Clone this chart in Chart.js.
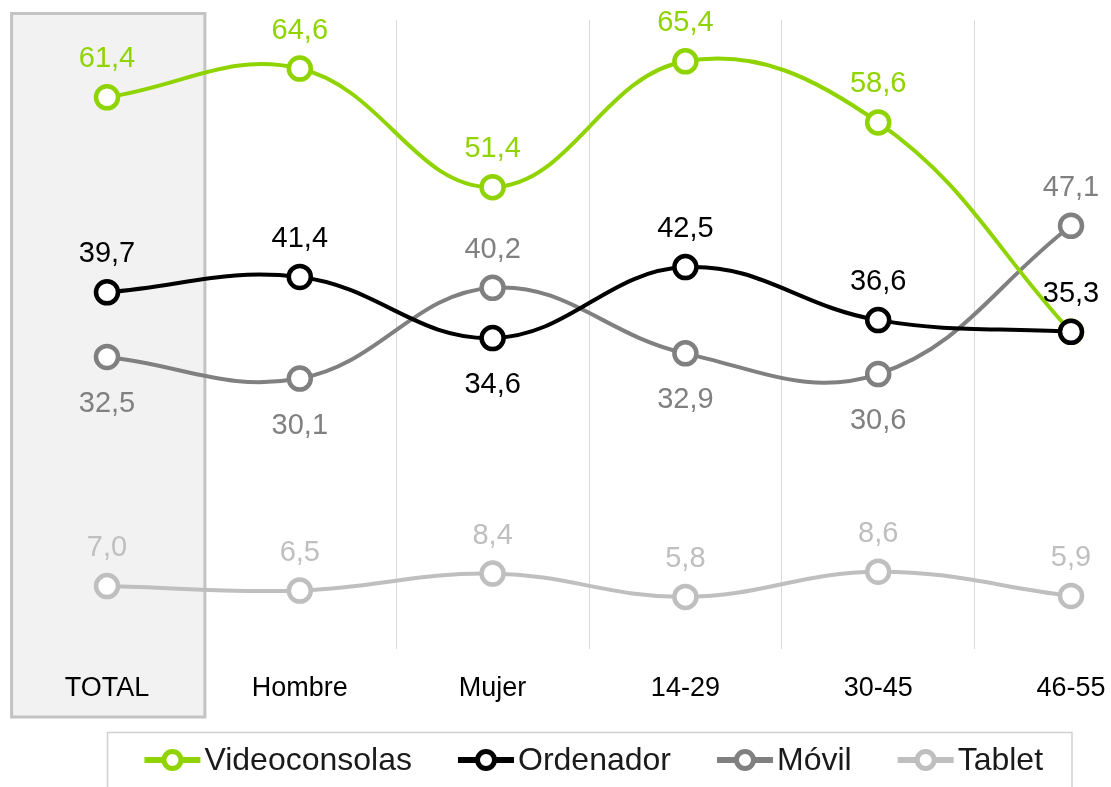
<!DOCTYPE html>
<html>
<head>
<meta charset="utf-8">
<script src="https://cdn.jsdelivr.net/npm/chart.js@4/dist/chart.umd.min.js"></script>
<style>
  html, body { margin: 0; padding: 0; background: #fff; }
  #wrap { width: 1111px; height: 787px; position: relative; }
</style>
</head>
<body>
<div id="wrap"><canvas id="chart"></canvas></div>
<script>
// Categories and series values
const categories = ['TOTAL', 'Hombre', 'Mujer', '14-29', '30-45', '46-55'];
const videoconsolas = [61.4, 64.6, 51.4, 65.4, 58.6, 35.3];
const ordenador = [39.7, 41.4, 34.6, 42.5, 36.6, 35.3];
const movil = [32.5, 30.1, 40.2, 32.9, 30.6, 47.1];
const tablet = [7.0, 6.5, 8.4, 5.8, 8.6, 5.9];

const GREEN = '#8fd400';
const BLACK = '#000000';
const GRAY = '#808080';
const LIGHT = '#bfbfbf';
const FONT = '"Liberation Sans", Arial, sans-serif';

// where each value label sits relative to its point
const labelPlacement = {
  Videoconsolas: ['above', 'above', 'above', 'above', 'above', 'none'],
  Ordenador: ['above', 'above', 'below', 'above', 'above', 'above'],
  'Móvil': ['below', 'below', 'above', 'below', 'below', 'above'],
  Tablet: ['above', 'above', 'above', 'above', 'above', 'above']
};

function fmt(v) {
  return v.toFixed(1).replace('.', ',');
}

function series(label, data, color, order) {
  return {
    label: label,
    data: data,
    borderColor: color,
    backgroundColor: color,
    borderWidth: 4,
    tension: 0.4,
    pointRadius: 11,
    pointBorderWidth: 4.5,
    pointBackgroundColor: '#fff',
    pointBorderColor: color,
    clip: false,
    order: order
  };
}

// Shaded box behind the TOTAL column
const totalBox = {
  id: 'totalBox',
  beforeDraw(chart) {
    const x = chart.scales.x;
    const ctx = chart.ctx;
    const left = x.getPixelForValue(-0.5) + 1;
    const right = x.getPixelForValue(0.5) + 1.5;
    const top = 13.5, bottom = 717;
    ctx.save();
    ctx.fillStyle = '#f2f2f2';
    ctx.fillRect(left, top, right - left, bottom - top);
    ctx.strokeStyle = '#c3c3c3';
    ctx.lineWidth = 3;
    ctx.strokeRect(left, top, right - left, bottom - top);
    ctx.restore();
  }
};

// Value labels next to each point
const valueLabels = {
  id: 'valueLabels',
  afterDatasetsDraw(chart) {
    const ctx = chart.ctx;
    ctx.save();
    ctx.font = '29px ' + FONT;
    ctx.textAlign = 'center';
    ctx.textBaseline = 'middle';
    chart.data.datasets.forEach((ds, i) => {
      const meta = chart.getDatasetMeta(i);
      const place = labelPlacement[ds.label];
      meta.data.forEach((pt, j) => {
        if (place[j] === 'none') return;
        const dy = place[j] === 'above' ? -38 : 47;
        ctx.fillStyle = ds.borderColor;
        ctx.fillText(fmt(ds.data[j]), pt.x, pt.y + dy);
      });
    });
    ctx.restore();
  }
};

// Boxed legend with line-and-circle markers
const boxLegend = {
  id: 'boxLegend',
  afterDraw(chart) {
    const ctx = chart.ctx;
    const x = chart.scales.x;
    const left = x.getPixelForValue(0) + 0.5;
    const right = x.getPixelForValue(categories.length - 1) + 1;
    const top = 732.5;
    ctx.save();
    ctx.strokeStyle = '#d0d0d0';
    ctx.lineWidth = 1.5;
    ctx.strokeRect(left, top, right - left, 80);

    ctx.font = '32px ' + FONT;
    ctx.textBaseline = 'middle';
    const iconW = 56, gapText = 4, gapItem = 46;
    const items = chart.data.datasets.map(ds => ({
      label: ds.label,
      color: ds.borderColor,
      w: iconW + gapText + ctx.measureText(ds.label).width
    }));
    const total = items.reduce((a, it) => a + it.w, 0) + gapItem * (items.length - 1);
    let cx = (left + right) / 2 - total / 2 + 4;
    const cy = 760;
    items.forEach(it => {
      ctx.strokeStyle = it.color;
      ctx.lineWidth = 6;
      ctx.beginPath();
      ctx.moveTo(cx, cy);
      ctx.lineTo(cx + iconW, cy);
      ctx.stroke();
      ctx.beginPath();
      ctx.arc(cx + iconW / 2, cy, 8.5, 0, Math.PI * 2);
      ctx.fillStyle = '#fff';
      ctx.fill();
      ctx.lineWidth = 5;
      ctx.stroke();
      ctx.fillStyle = '#1a1a1a';
      ctx.textAlign = 'left';
      ctx.fillText(it.label, cx + iconW + gapText, cy + 1);
      cx += it.w + gapItem;
    });
    ctx.restore();
  }
};

new Chart(document.getElementById('chart'), {
  type: 'line',
  data: {
    labels: categories,
    datasets: [
      series('Videoconsolas', videoconsolas, GREEN, 1),
      series('Ordenador', ordenador, BLACK, 0),
      series('Móvil', movil, GRAY, 2),
      series('Tablet', tablet, LIGHT, 3)
    ]
  },
  options: {
    responsive: true,
    maintainAspectRatio: false,
    animation: false,
    layout: {
      padding: { left: 107, right: 40, top: 20, bottom: 85 }
    },
    plugins: {
      legend: { display: false },
      tooltip: { enabled: false }
    },
    scales: {
      y: {
        display: false,
        min: 0,
        max: 70
      },
      x: {
        offset: false,
        border: { display: false },
        grid: {
          offset: true,
          drawTicks: false,
          lineWidth: 1,
          color: ctx => ctx.index === 1 ? 'rgba(0,0,0,0)' : '#d9d9d9'
        },
        ticks: {
          autoSkip: false,
          maxRotation: 0,
          padding: 23,
          color: '#000',
          font: { family: FONT, size: 27 }
        },
        afterFit(scale) {
          // keep the plot area exactly where the padding puts it
          scale.paddingLeft = 0;
          scale.paddingRight = 0;
          scale.height = 53;
        }
      }
    }
  },
  plugins: [totalBox, valueLabels, boxLegend]
});
</script>
</body>
</html>
